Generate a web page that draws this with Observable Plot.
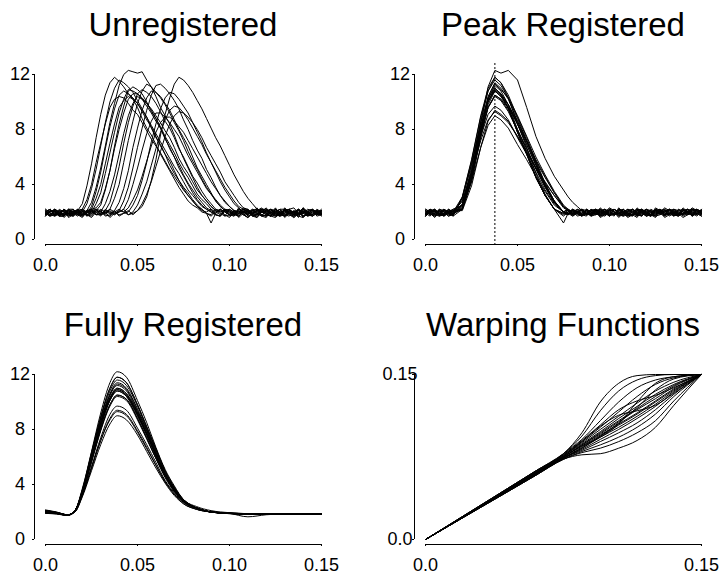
<!DOCTYPE html>
<html><head><meta charset="utf-8">
<script src="https://cdn.jsdelivr.net/npm/d3@7"></script>
<script src="https://cdn.jsdelivr.net/npm/@observablehq/plot@0.6"></script>
<style>
html,body{margin:0;padding:0;background:#fff;overflow:hidden}
#chart{position:relative;width:723px;height:577px;font-family:"Liberation Sans",Arial,sans-serif}
.panel{position:absolute}
.title{position:absolute;width:298px;text-align:center;font-size:33px;line-height:33px;color:#000;white-space:nowrap}
</style></head><body><div id="chart"></div>
<script>
// ---------- text ----------
const titles = ["Unregistered", "Peak Registered", "Fully Registered", "Warping Functions"];
const countTicks = [0, 4, 8, 12];
const countTickLabels = ["0", "4", "8", "12"];
const timeTicks = [0, 0.05, 0.10, 0.15];
const timeTickLabels = ["0.0", "0.05", "0.10", "0.15"];
const warpTicks = [0, 0.15];
const warpTickLabels = ["0.0", "0.15"];
const peakLocation = 0.0377;

// ---------- Unregistered ----------
const timeGrid1 = [0,.0025,.005,.0075,.01,.0125,.015,.0175,.02,.0225,.025,.0275,.03,.0325,.035,.0375,.04,.0425,.045,.0475,.05,.0525,.055,.0575,.06,.0625,.065,.0675,.07,.0725,.075,.0775,.08,.0825,.085,.0875,.09,.0925,.095,.0975,.1,.1025,.105,.1075,.11,.1125,.115,.1175,.12,.1225,.125,.1275,.13,.1325,.135,.1375,.14,.1425,.145,.1475,.15];
const unregistered = [
[1.8,2.0,2.1,1.7,1.7,2.2,2.0,2.1,2.6,3.9,5.5,7.4,9.1,10.5,11.4,11.8,11.5,11.1,10.6,10.2,9.6,8.8,8.1,7.6,6.9,6.2,5.6,5.0,4.4,3.8,3.3,2.8,2.5,2.3,2.0,1.9,1.7,2.0,2.2,1.7,1.8,2.1,2.0,1.8,1.6,1.9,2.1,2.3,1.9,1.7,2.2,2.0,1.7,1.9,2.0,1.6,2.3,2.0,1.8,2.2,2.0],
[2.0,2.2,1.7,1.9,2.2,1.6,1.8,2.1,2.2,2.9,4.0,5.6,7.0,8.4,9.6,10.2,10.4,10.3,9.9,9.4,9.1,8.5,7.9,7.3,6.8,6.3,5.7,5.1,4.6,4.1,3.6,3.2,2.8,2.4,2.2,1.9,1.8,2.2,2.1,1.8,1.6,2.0,1.9,2.3,2.2,1.7,1.8,2.0,2.0,2.2,1.7,1.9,2.1,2.2,1.9,1.7,1.6,2.0,2.2,1.8,1.9],
[1.9,1.7,2.2,2.0,1.8,1.9,2.1,1.8,2.0,2.6,3.7,5.1,6.8,8.5,10.0,11.0,11.6,11.4,11.1,10.7,10.1,9.5,8.9,8.1,7.4,6.9,6.2,5.4,4.8,4.3,3.7,3.2,2.8,2.4,2.1,2.0,2.2,1.8,1.7,2.1,2.0,1.8,2.3,2.0,1.8,2.2,1.9,1.7,1.6,2.1,2.0,1.8,2.2,1.9,1.8,2.2,2.0,1.9,1.7,2.0,2.1],
[1.7,2.1,2.0,1.8,1.9,2.2,2.2,1.9,1.8,2.1,2.7,3.8,5.2,6.8,8.5,9.9,11.2,12.0,12.3,12.2,12.1,12.2,11.6,11.1,10.4,9.6,9.0,8.4,7.6,6.7,5.9,5.2,4.5,3.8,3.2,2.8,2.4,2.1,2.0,2.2,1.7,1.9,2.1,1.8,1.9,2.0,2.3,1.7,1.8,2.2,1.9,2.0,2.1,1.8,1.6,1.9,2.0,2.1,2.2,1.7,1.8],
[2.1,1.7,1.8,2.2,2.0,1.9,1.7,2.0,2.1,1.9,2.4,3.5,4.9,6.6,8.2,9.5,10.5,10.8,10.6,10.3,9.9,9.3,8.7,8.2,7.5,6.8,6.2,5.7,5.0,4.3,3.8,3.4,2.9,2.5,2.2,1.9,1.2,1.9,2.2,2.0,1.8,2.1,1.6,1.9,2.0,2.2,2.1,1.8,1.7,2.0,2.0,1.7,2.3,2.0,1.9,2.2,1.7,1.8,2.0,1.9,2.2],
[1.8,2.0,2.2,1.9,1.7,2.1,1.9,1.7,2.0,2.0,2.2,3.0,4.0,5.5,7.0,8.4,9.6,10.1,10.4,10.2,9.9,9.4,8.9,8.3,7.7,7.1,6.5,5.9,5.3,4.8,4.2,3.6,3.2,2.8,2.4,2.2,2.0,1.8,1.7,2.2,2.1,1.8,1.9,2.0,2.2,1.7,1.6,2.1,2.0,2.2,1.8,1.7,2.1,1.9,2.0,2.2,1.7,1.9,2.1,2.0,1.8],
[2.0,1.8,1.7,2.0,2.1,1.8,1.9,2.1,2.2,1.8,2.0,2.6,3.4,4.8,6.3,7.8,9.2,10.2,10.9,10.8,10.6,10.2,9.7,9.2,8.6,8.1,7.4,6.6,6.0,5.4,4.7,4.1,3.6,3.1,2.7,2.3,2.1,1.9,2.2,2.0,1.8,2.1,2.0,1.8,1.6,1.9,2.1,2.2,1.9,1.7,2.2,2.0,1.7,2.1,2.0,1.9,2.3,1.7,1.8,2.1,1.9],
[1.9,1.7,2.1,2.0,1.6,1.9,2.0,2.2,1.8,1.9,2.2,2.3,2.7,3.7,5.0,6.6,8.0,9.2,10.2,10.6,10.6,10.3,9.9,9.4,8.8,8.2,7.5,6.9,6.3,5.6,5.0,4.5,3.9,3.3,2.9,2.6,2.2,2.0,1.8,2.2,2.1,1.9,1.7,2.0,2.0,1.8,2.2,2.1,1.8,1.7,2.0,2.2,1.6,1.9,2.1,1.8,1.9,2.0,2.2,1.9,1.8],
[2.2,1.9,1.8,2.1,2.0,1.8,1.7,2.0,2.1,1.7,1.9,2.1,2.5,3.6,5.0,6.8,8.4,9.7,10.8,11.1,10.9,10.6,10.0,9.3,8.8,8.1,7.3,6.7,6.0,5.2,4.6,4.0,3.4,2.9,2.5,2.2,2.0,1.8,1.7,2.1,2.2,1.9,1.8,2.2,2.0,1.7,1.9,2.0,2.3,1.8,1.7,2.1,2.0,2.2,1.8,1.9,2.1,1.7,1.9,2.0,1.7],
[1.8,2.1,2.0,1.7,2.2,2.0,1.8,2.2,1.9,1.8,1.6,2.0,2.0,2.6,3.5,4.7,6.2,7.7,9.0,9.9,10.4,10.2,9.9,9.5,9.0,8.5,7.9,7.4,6.7,5.9,5.3,4.8,4.2,3.6,3.2,2.8,2.4,2.1,1.9,1.7,2.2,2.0,1.7,2.1,2.0,1.8,1.8,2.2,2.1,1.9,1.9,1.7,2.2,2.0,1.7,2.2,2.0,1.8,1.8,2.0,2.1],
[2.0,2.2,1.7,1.9,1.9,1.7,2.1,2.0,1.8,2.1,2.2,1.8,1.9,2.1,2.7,3.9,5.3,7.0,8.5,9.7,10.6,10.9,10.7,10.4,9.9,9.3,8.6,8.1,7.4,6.6,6.0,5.3,4.6,4.1,3.5,3.0,2.6,2.2,2.0,2.1,1.8,1.7,2.1,1.9,1.6,2.0,2.0,2.2,2.2,1.8,1.8,2.0,1.9,2.2,2.3,1.9,1.7,1.8,2.0,2.1,1.9],
[1.9,2.0,2.2,1.8,1.8,2.1,2.0,1.9,1.7,2.0,2.1,2.2,1.8,2.0,2.2,3.0,4.0,5.6,7.2,8.6,9.9,10.8,11.3,11.1,10.7,10.3,9.8,9.2,8.5,7.9,7.2,6.4,5.7,5.1,4.4,3.8,3.3,2.9,2.5,2.2,2.0,1.8,1.7,2.0,2.2,1.9,1.8,2.1,2.0,1.7,1.6,1.9,2.1,2.2,1.9,1.8,2.2,2.0,1.8,2.1,2.0],
[2.1,1.8,1.9,2.1,1.7,2.0,2.0,1.8,2.2,2.0,1.8,2.1,2.0,1.8,1.7,2.1,2.7,3.7,5.0,6.7,8.1,9.4,10.3,10.8,10.7,10.4,9.9,9.4,8.7,8.0,7.4,6.8,6.0,5.2,4.6,4.0,3.4,2.8,2.4,2.1,1.9,1.7,2.2,2.0,1.8,2.1,2.0,1.8,1.7,2.2,2.1,1.9,1.9,2.1,1.6,1.9,2.0,1.8,2.2,2.0,1.8],
[1.8,2.1,2.0,1.8,2.2,1.9,1.9,2.2,1.7,2.0,2.1,1.8,1.8,2.1,2.0,1.9,2.1,2.8,3.8,5.2,6.7,8.1,9.4,10.5,11.2,11.3,11.0,10.6,10.1,9.5,8.7,8.0,7.2,6.5,5.9,5.1,4.5,3.8,3.2,2.8,2.4,2.1,2.0,2.2,1.7,1.9,2.1,2.0,1.8,1.7,2.0,2.2,2.2,1.8,1.7,2.0,1.9,2.2,2.1,1.9,1.8],
[2.0,2.2,1.8,1.9,2.1,1.8,1.7,2.0,1.9,2.1,2.2,1.8,1.9,2.0,1.6,1.9,2.0,2.2,2.9,4.0,5.2,6.5,7.7,8.6,9.2,9.2,8.9,8.5,8.0,7.5,6.8,6.1,5.5,4.9,4.3,3.7,3.3,2.8,2.4,2.1,2.0,1.8,2.2,2.0,1.8,2.1,1.9,1.7,2.2,2.0,1.7,1.9,2.0,2.2,1.8,1.7,2.1,2.0,1.7,1.9,2.0],
[1.9,1.7,2.2,2.0,1.8,2.1,2.0,1.8,1.7,2.0,1.9,2.2,2.1,1.7,1.8,2.0,2.2,2.0,2.3,2.9,3.6,4.6,5.7,6.8,7.8,8.5,8.9,8.9,8.6,8.2,7.8,7.2,6.6,6.0,5.4,4.8,4.2,3.7,3.2,2.7,2.4,2.1,1.9,2.2,2.1,1.8,1.7,2.0,2.0,1.9,2.2,1.7,1.8,2.1,2.0,2.2,1.6,1.9,2.1,1.8,1.9],
[2.2,1.9,1.8,2.1,2.0,1.7,1.9,2.0,2.1,1.8,1.7,2.1,2.0,1.9,2.2,2.0,1.8,1.9,2.0,2.5,3.2,4.3,5.6,7.1,8.4,9.5,10.3,10.7,10.6,10.2,9.7,9.2,8.5,7.8,7.1,6.3,5.6,4.9,4.2,3.6,3.1,2.6,2.3,2.0,1.9,2.1,2.2,1.8,1.7,2.0,2.0,2.2,1.8,1.7,2.1,1.9,2.3,2.0,1.8,2.1,2.0],
[1.7,2.1,2.0,1.8,2.2,1.9,1.8,2.1,2.0,1.7,2.1,2.0,1.7,2.2,1.9,1.8,2.1,2.0,1.8,2.0,2.5,3.3,4.2,5.4,6.6,7.8,8.7,9.4,9.7,9.6,9.2,8.7,8.1,7.5,6.9,6.2,5.6,5.0,4.4,3.8,3.3,2.8,2.4,2.2,2.0,1.8,1.6,2.0,2.1,2.2,1.9,1.7,2.2,2.0,1.8,2.1,2.0,1.8,1.7,1.9,2.1],
[2.0,2.2,1.9,1.7,1.7,2.0,2.2,1.9,1.8,2.1,2.0,1.8,2.2,2.0,1.9,2.1,1.7,1.9,2.1,1.8,2.1,2.6,3.3,4.2,5.3,6.4,7.5,8.4,9.0,9.3,9.2,8.9,8.5,8.0,7.4,6.7,6.1,5.5,4.9,4.2,3.7,3.2,2.7,2.3,2.1,2.0,1.8,2.2,2.1,1.9,2.3,1.8,1.7,2.0,2.0,2.1,1.9,1.7,2.2,2.0,1.8],
[1.8,2.0,2.1,1.7,1.9,2.2,2.0,1.8,1.6,2.0,2.0,2.2,1.8,1.9,2.1,1.8,2.0,2.2,1.8,1.9,2.1,2.4,3.1,4.3,5.8,7.6,9.1,10.3,11.3,11.8,11.6,11.2,10.7,10.1,9.5,8.8,8.1,7.4,6.8,6.1,5.4,4.7,4.1,3.5,3.0,2.6,2.2,2.0,1.9,1.7,2.2,2.0,1.7,2.1,2.0,1.8,2.2,1.9,1.8,2.1,2.0]
];

// ---------- Peak Registered ----------
const timeGrid2 = [0,.0025,.005,.0075,.01,.0125,.015,.02,.025,.03,.034,.0377,.041,.045,.05,.055,.06,.065,.07,.075,.0775,.08,.0825,.085,.0875,.09,.0925,.095,.0975,.1,.1025,.105,.1075,.11,.1125,.115,.1175,.12,.1225,.125,.1275,.13,.1325,.135,.1375,.14,.1425,.145,.1475,.15];
const peakRegistered = [
[1.8,2.0,2.2,1.9,1.7,2.1,2.0,3.1,5.8,9.0,11.0,11.8,11.4,10.3,8.4,6.7,4.8,3.3,2.2,1.7,2.0,2.1,1.7,1.8,2.2,2.0,1.9,2.3,2.0,1.7,2.2,1.9,1.8,2.1,2.0,1.8,1.7,2.2,2.1,1.9,2.0,1.6,1.8,2.0,2.1,2.2,1.9,1.8,2.2,2.0],
[2.1,1.9,1.7,2.2,2.0,1.7,1.8,2.5,4.7,7.8,9.6,10.5,10.2,9.4,8.0,6.6,5.2,3.8,2.7,2.0,1.9,1.7,2.0,2.2,1.8,1.9,2.1,1.6,1.8,2.1,2.2,2.0,1.9,1.7,2.0,2.2,2.1,1.8,1.7,2.0,2.0,2.3,2.1,1.8,1.7,1.9,2.2,2.1,1.9,1.7],
[1.9,2.2,2.0,1.8,2.2,2.0,1.7,3.1,5.7,8.9,10.8,11.6,11.2,10.3,8.8,7.2,5.6,4.0,2.8,2.0,1.8,2.2,2.0,1.8,1.7,2.1,2.2,1.9,1.8,2.2,2.0,1.6,1.9,2.0,2.2,1.9,1.7,2.1,2.0,1.7,1.8,2.0,2.1,2.2,1.9,1.8,2.1,2.0,1.8,2.2],
[2.0,2.2,1.8,1.7,2.1,2.0,1.9,2.3,4.7,8.5,11.1,12.3,12.1,12.3,11.6,9.6,7.5,5.9,4.6,3.6,3.1,2.7,2.4,2.1,2.0,1.8,2.1,2.0,1.8,2.2,2.0,1.8,2.2,1.9,1.7,2.3,2.0,1.8,2.1,2.0,1.9,1.7,2.2,2.1,1.8,1.9,2.0,2.3,2.1,1.8],
[1.7,2.0,2.1,1.8,1.9,2.0,2.2,2.5,4.9,8.0,10.0,10.9,10.5,9.6,7.8,6.2,4.5,3.2,2.2,1.2,1.9,2.0,2.2,1.7,1.9,2.1,2.0,1.8,2.2,2.0,1.8,2.2,2.0,1.7,1.8,2.0,2.1,1.9,1.7,2.2,2.0,1.8,2.2,2.0,1.9,1.6,1.8,2.1,2.2,1.9],
[2.2,2.0,1.9,2.1,1.7,1.9,2.0,2.2,4.2,7.4,9.6,10.5,10.2,9.6,8.4,7.1,5.7,4.5,3.4,2.4,2.1,1.9,2.0,2.2,1.9,1.7,2.1,2.0,2.2,1.8,1.9,2.1,2.2,1.9,1.8,1.6,2.1,2.0,1.8,2.2,2.0,1.8,2.2,1.9,1.8,2.2,2.0,1.7,2.2,2.0],
[1.8,2.1,2.0,1.8,2.2,2.0,1.8,2.5,4.9,8.1,10.1,11.0,10.6,9.8,8.4,6.9,5.4,3.9,2.7,2.0,2.2,1.8,2.0,2.1,1.8,1.9,2.0,2.2,2.0,1.7,1.9,2.0,1.8,2.2,2.1,1.8,2.0,1.7,1.8,2.1,2.2,1.9,1.8,2.2,2.0,1.8,2.2,1.9,1.7,2.1],
[2.0,1.9,1.6,2.0,2.1,1.8,1.9,3.0,5.4,8.3,10.1,10.8,10.4,9.8,8.6,7.2,5.8,4.6,3.4,2.4,2.2,2.0,2.1,1.8,1.9,2.2,2.0,1.7,2.2,2.0,1.8,1.9,2.0,2.2,1.9,1.8,2.2,2.0,1.8,1.6,2.0,2.1,2.2,1.9,1.7,2.1,2.0,1.8,2.2,2.0],
[1.9,2.1,2.2,1.9,1.8,2.1,1.9,2.2,4.4,7.9,10.2,11.2,10.8,9.8,8.0,6.4,4.6,3.2,2.2,1.8,2.0,2.2,1.8,1.9,2.1,1.7,1.9,2.1,2.2,1.9,1.7,2.3,2.0,1.8,2.2,2.0,1.9,1.7,2.0,2.1,1.8,2.0,2.2,1.7,1.9,2.1,2.0,2.2,1.9,1.8],
[2.1,1.9,1.8,2.1,2.0,1.8,2.1,2.5,4.7,7.7,9.6,10.4,10.1,9.3,7.9,6.6,5.1,3.8,2.7,2.0,1.8,2.1,2.0,1.7,2.2,2.0,1.8,1.9,2.0,2.3,2.1,1.7,1.9,2.0,1.8,2.1,2.2,1.8,1.7,1.9,2.0,2.2,1.9,1.7,2.2,2.0,1.8,1.9,2.0,2.1],
[1.7,2.0,2.1,1.8,1.9,2.2,1.8,3.0,5.5,8.5,10.3,11.0,10.6,9.8,8.4,6.9,5.4,3.9,2.7,2.0,2.2,1.9,2.0,2.2,1.9,1.8,2.2,2.0,1.8,2.1,2.0,1.7,2.2,1.9,1.8,2.2,1.7,2.0,2.1,1.8,1.9,2.1,2.0,1.9,1.8,2.3,2.0,1.7,2.1,1.9],
[2.0,1.8,1.9,2.2,2.1,1.9,1.7,2.2,4.4,7.9,10.3,11.3,10.9,10.3,9.0,7.5,6.0,4.7,3.5,2.5,2.2,2.0,1.9,1.7,2.0,2.1,2.2,1.8,1.7,2.0,1.9,2.2,2.1,1.8,1.8,1.9,2.0,2.2,1.9,1.7,2.2,2.0,1.9,1.8,1.7,2.1,2.2,2.0,1.9,1.7],
[1.8,2.2,2.0,1.9,1.7,2.0,2.1,2.5,4.9,8.0,10.0,10.9,10.5,9.6,7.8,6.2,4.5,3.2,2.2,1.9,2.1,1.7,1.9,2.0,1.8,2.2,2.0,1.8,2.2,1.9,1.8,2.1,2.0,1.7,2.2,2.0,1.8,2.2,2.0,1.8,2.2,1.9,1.8,2.1,2.0,1.7,1.9,2.0,1.8,2.2],
[2.2,2.0,1.8,2.1,2.0,1.7,1.9,2.2,4.5,8.0,10.4,11.4,11.0,10.2,8.6,7.1,5.5,4.0,2.8,2.0,1.9,2.2,2.0,1.8,2.1,2.0,1.9,1.7,2.0,2.1,1.8,1.9,2.0,2.2,1.9,1.7,2.2,2.0,1.8,2.1,2.0,1.8,1.9,2.2,2.1,1.9,2.0,1.7,2.2,2.0],
[1.9,1.7,2.1,2.0,1.8,2.2,2.0,2.8,4.8,7.2,8.7,9.3,9.0,8.5,7.5,6.3,5.2,4.1,3.2,2.3,2.1,1.9,2.0,2.2,1.9,1.8,2.2,2.1,1.9,1.7,2.2,2.0,1.7,1.8,2.0,2.2,2.1,1.9,1.8,2.1,2.2,1.7,1.9,2.0,1.8,1.9,2.0,2.2,2.1,1.8],
[2.0,1.9,1.7,2.0,2.2,1.9,1.8,2.4,4.2,6.7,8.3,9.0,8.7,8.1,6.9,5.8,4.6,3.5,2.5,2.0,2.2,1.8,2.0,2.1,1.8,1.9,2.0,2.2,1.9,1.8,2.2,2.0,1.9,1.6,1.8,2.1,2.2,1.9,1.7,2.2,2.0,1.8,2.2,2.0,1.9,2.1,2.2,1.8,1.9,2.0],
[1.8,2.0,2.1,1.7,1.9,2.0,2.2,2.2,4.3,7.6,9.8,10.8,10.4,9.5,7.8,6.2,4.5,3.2,2.2,1.9,1.8,2.1,1.9,1.7,2.2,2.0,1.8,2.2,2.0,1.8,2.2,1.9,1.7,2.1,2.0,1.7,1.9,2.0,1.8,2.3,2.1,1.8,2.2,1.9,1.8,2.1,2.0,1.7,1.9,2.0],
[2.1,1.8,1.9,2.1,1.7,2.2,2.0,2.8,4.9,7.5,9.1,9.7,9.4,8.7,7.4,6.2,4.9,3.6,2.6,2.0,1.8,2.2,2.0,1.9,2.2,1.7,1.8,2.0,1.9,2.2,2.0,1.8,1.7,2.1,2.2,1.9,2.0,1.7,1.8,2.0,2.1,2.2,1.7,1.9,2.0,1.8,1.9,2.2,2.0,1.9],
[1.9,2.0,2.2,1.7,1.8,2.0,2.1,2.1,3.9,6.7,8.6,9.4,9.1,8.6,7.5,6.4,5.2,4.2,3.2,2.4,2.1,1.9,2.0,2.2,2.1,1.8,1.9,2.0,2.2,1.7,1.9,2.1,2.0,1.9,1.8,2.2,2.0,1.8,2.2,2.0,1.9,2.1,2.0,1.7,2.2,2.0,1.8,2.2,2.1,1.9],
[1.7,2.2,2.0,1.8,2.1,1.9,1.8,2.6,5.2,8.6,10.8,11.8,11.4,10.5,8.9,7.4,5.7,4.1,2.8,2.0,1.9,1.8,2.2,2.1,1.8,2.0,2.1,1.7,1.9,2.2,2.0,1.9,2.2,1.8,1.7,2.1,2.0,2.2,1.8,1.7,2.1,2.0,2.2,1.9,1.8,2.2,2.0,1.8,1.9,2.1]
];

// ---------- Fully Registered ----------
const timeGrid3 = [0,.006,.012,.016,.02,.025,.03,.035,.039,.044,.05,.055,.06,.065,.07,.075,.082,.09,.1,.11,.12,.135,.15];
const fullyRegistered = [
[2.0,1.9,1.75,2.1,3.6,6.3,8.9,11.0,11.8,11.4,9.8,8.2,6.6,5.0,3.8,2.9,2.3,2.0,1.9,1.85,1.85,1.88,1.85],
[2.1,1.95,1.8,2.1,3.4,5.7,8.0,9.8,10.5,10.2,8.8,7.4,5.9,4.6,3.5,2.8,2.3,2.0,1.9,1.88,1.86,1.87,1.86],
[1.95,1.9,1.75,2.1,3.5,6.2,8.8,10.8,11.6,11.2,9.7,8.1,6.5,4.9,3.7,2.9,2.3,2.0,1.9,1.86,1.85,1.88,1.85],
[2.05,1.95,1.78,2.1,3.7,6.4,9.2,11.4,12.2,11.8,10.1,8.5,6.7,5.1,3.9,2.9,2.4,2.1,1.95,1.88,1.86,1.87,1.86],
[2.15,2.0,1.8,2.1,3.4,5.9,8.3,10.2,10.9,10.5,9.1,7.7,6.1,4.7,3.6,2.8,2.3,2.0,1.88,1.84,1.86,1.88,1.86],
[1.9,1.85,1.75,2.1,3.4,5.7,8.0,9.8,10.5,10.2,8.8,7.4,5.9,4.6,3.5,2.8,2.3,2.0,1.9,1.65,1.8,1.88,1.85],
[2.0,1.92,1.77,2.1,3.4,5.9,8.4,10.3,11.0,10.6,9.2,7.7,6.2,4.7,3.6,2.8,2.3,2.0,1.9,1.87,1.86,1.87,1.86],
[2.1,1.98,1.8,2.1,3.4,5.8,8.2,10.1,10.8,10.4,9.0,7.6,6.1,4.7,3.6,2.8,2.3,2.0,1.92,1.88,1.85,1.86,1.85],
[1.95,1.88,1.76,2.1,3.5,6.0,8.5,10.5,11.2,10.8,9.3,7.9,6.3,4.8,3.7,2.8,2.3,2.0,1.88,1.83,1.85,1.88,1.86],
[2.05,1.96,1.79,2.1,3.3,5.6,7.9,9.7,10.4,10.1,8.7,7.3,5.9,4.5,3.5,2.8,2.3,2.0,1.9,1.86,1.87,1.87,1.85],
[2.1,1.94,1.78,2.1,3.4,5.9,8.4,10.3,11.0,10.6,9.2,7.7,6.2,4.7,3.6,2.8,2.3,2.0,1.9,1.85,1.86,1.88,1.86],
[1.92,1.87,1.76,2.1,3.5,6.0,8.6,10.5,11.3,10.9,9.4,7.9,6.3,4.8,3.7,2.8,2.3,2.0,1.91,1.87,1.85,1.87,1.85],
[2.0,1.93,1.79,2.1,3.4,5.9,8.3,10.2,10.9,10.5,9.1,7.7,6.1,4.7,3.6,2.8,2.3,2.0,1.89,1.86,1.86,1.88,1.86],
[2.12,1.97,1.8,2.1,3.5,6.1,8.6,10.6,11.4,11.0,9.5,8.0,6.4,4.8,3.7,2.9,2.3,2.0,1.9,1.84,1.85,1.87,1.85],
[1.98,1.9,1.77,2.0,3.2,5.2,7.2,8.7,9.3,9.0,7.8,6.6,5.4,4.2,3.3,2.6,2.2,2.0,1.9,1.88,1.86,1.87,1.86],
[2.08,1.95,1.78,2.0,3.1,5.0,6.9,8.4,9.0,8.7,7.6,6.4,5.2,4.1,3.2,2.6,2.2,2.0,1.92,1.87,1.85,1.88,1.85],
[1.94,1.89,1.76,2.1,3.4,5.8,8.2,10.1,10.8,10.4,9.0,7.6,6.1,4.7,3.6,2.8,2.3,2.0,1.9,1.86,1.86,1.87,1.86],
[2.03,1.93,1.79,2.1,3.2,5.3,7.4,9.1,9.7,9.4,8.1,6.9,5.6,4.3,3.4,2.7,2.3,2.0,1.9,1.85,1.86,1.88,1.85],
[2.1,1.96,1.8,2.0,3.2,5.2,7.2,8.8,9.4,9.1,7.9,6.7,5.4,4.2,3.3,2.7,2.2,2.0,1.9,1.87,1.85,1.87,1.86],
[1.96,1.9,1.77,2.1,3.6,6.3,8.9,11.0,11.8,11.4,9.8,8.2,6.6,5.0,3.8,2.9,2.3,2.0,1.9,1.86,1.86,1.88,1.85]
];

// ---------- Warping Functions ----------
const timeGrid4 = [0,.02,.04,.06,.075,.085,.095,.105,.115,.125,.135,.15];
const warpingFunctions = [
[0,.0208,.0416,.0624,.078,.097,.125,.142,.149,.150,.150,.150],
[0,.0208,.0416,.0624,.078,.094,.117,.135,.145,.149,.150,.150],
[0,.0208,.0416,.0624,.078,.091,.108,.125,.138,.145,.148,.150],
[0,.0205,.0411,.0616,.077,.089,.102,.116,.130,.141,.147,.150],
[0,.020,.040,.060,.075,.085,.093,.105,.125,.142,.148,.150],
[0,.0203,.0405,.0608,.076,.088,.100,.112,.124,.135,.143,.150],
[0,.0203,.0405,.0608,.076,.087,.098,.110,.121,.132,.141,.150],
[0,.020,.040,.060,.075,.086,.097,.108,.119,.130,.140,.150],
[0,.020,.040,.060,.075,.086,.096,.107,.118,.128,.139,.150],
[0,.020,.040,.060,.075,.085,.095,.105,.115,.126,.137,.150],
[0,.0197,.0395,.0592,.074,.084,.094,.104,.114,.125,.136,.150],
[0,.0197,.0395,.0592,.074,.083,.093,.102,.112,.123,.135,.150],
[0,.0197,.0395,.0592,.074,.082,.091,.100,.110,.121,.134,.150],
[0,.0205,.0411,.0616,.077,.090,.104,.118,.126,.131,.138,.150],
[0,.0197,.0395,.0592,.074,.081,.089,.097,.106,.118,.132,.150],
[0,.0195,.0389,.0584,.073,.080,.086,.093,.102,.114,.130,.150],
[0,.0195,.0389,.0584,.073,.079,.083,.089,.097,.108,.126,.150],
[0,.0195,.0389,.0584,.073,.077,.078,.083,.090,.102,.122,.150],
[0,.0203,.0405,.0608,.076,.089,.103,.113,.117,.122,.133,.150],
[0,.020,.040,.060,.074,.083,.094,.106,.120,.136,.146,.150]
];

// ---------- layout ----------
const W = 342, H = 290, ML = 34, MR = 10, MT = 63, MB = 46;
const timeDomain = [-0.006, 0.156];
const countDomain = [-0.364, 12.8];
const warpDomain = [-0.00455, 0.16];

const panels = [
  {title: titles[0], grid: timeGrid1, curves: unregistered, left: 0, top: 0, yDomain: countDomain, yTicks: countTicks, yLabels: countTickLabels, xDomain: timeDomain, xTicks: timeTicks, xLabels: timeTickLabels, curve: "linear"},
  {title: titles[1], grid: timeGrid2, curves: peakRegistered, left: 380, top: 0, yDomain: countDomain, yTicks: countTicks, yLabels: countTickLabels, xDomain: timeDomain, xTicks: timeTicks, xLabels: timeTickLabels, curve: "linear", vline: peakLocation},
  {title: titles[2], grid: timeGrid3, curves: fullyRegistered, left: 0, top: 300, yDomain: countDomain, yTicks: countTicks, yLabels: countTickLabels, xDomain: timeDomain, xTicks: timeTicks, xLabels: timeTickLabels, curve: "monotone-x"},
  {title: titles[3], grid: timeGrid4, curves: warpingFunctions, left: 380, top: 300, yDomain: warpDomain, yTicks: warpTicks, yLabels: warpTickLabels, xDomain: timeDomain, xTicks: warpTicks, xLabels: warpTickLabels, curve: "monotone-x"}
];

const chart = document.getElementById("chart");
for (const p of panels) {
  p.curves.forEach((c, i) => { if (c.length !== p.grid.length) console.warn(p.title, i, c.length, p.grid.length); });
  const rows = p.curves.flatMap((c, i) => c.map((v, j) => ({x: p.grid[j], y: v, id: i})).filter(r => r.x !== undefined));
  const marks = [
    Plot.ruleX([p.xDomain[0]], {y1: p.yTicks[0], y2: p.yTicks[p.yTicks.length - 1], stroke: "black", strokeWidth: 1}),
    Plot.ruleY([p.yDomain[0]], {x1: p.xTicks[0], x2: p.xTicks[p.xTicks.length - 1], stroke: "black", strokeWidth: 1}),
    Plot.axisY(p.yTicks, {anchor: "left", tickSize: 2, tickPadding: 12.5, textAnchor: "middle", fontSize: 18, label: null,
      tickFormat: d => p.yLabels[p.yTicks.indexOf(d)]}),
    Plot.axisX(p.xTicks, {anchor: "bottom", tickSize: 2, tickPadding: 12, fontSize: 18, label: null,
      tickFormat: d => p.xLabels[p.xTicks.indexOf(d)]}),
    Plot.line(rows, {x: "x", y: "y", z: "id", stroke: "black", strokeWidth: 1, curve: p.curve})
  ];
  if (p.vline != null) marks.push(Plot.ruleX([p.vline], {stroke: "black", strokeWidth: 1, strokeDasharray: "2,2"}));
  const svg = Plot.plot({
    width: W, height: H,
    marginLeft: ML, marginRight: MR, marginTop: MT, marginBottom: MB,
    x: {domain: p.xDomain}, y: {domain: p.yDomain},
    style: {fontFamily: "Liberation Sans, Arial, sans-serif", fontSize: "18px", background: "transparent", color: "black", overflow: "visible"},
    marks
  });
  svg.classList.add("panel");
  svg.style.left = p.left + "px";
  svg.style.top = p.top + "px";
  svg.style.position = "absolute";
  chart.appendChild(svg);
  const t = document.createElement("div");
  t.className = "title";
  t.textContent = p.title;
  t.style.left = (p.left + ML) + "px";
  t.style.top = (p.top + 8) + "px";
  chart.appendChild(t);
}
</script></body></html>
